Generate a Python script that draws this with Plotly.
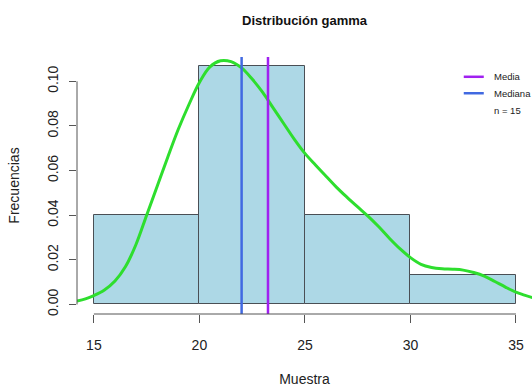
import plotly.graph_objects as go

# ---- data ----
n = 15
bin_left = [15, 20, 25, 30]
bin_width = 5
density = [0.04, 0.10667, 0.04, 0.01333]
media = 23.25
mediana = 22.0

curve_x = [14.2, 14.6, 15.0, 15.5, 16.0, 16.5, 17.0, 17.5, 18.0, 18.5, 19.0, 19.5,
           20.0, 20.5, 21.0, 21.5, 22.0, 22.5, 23.0, 23.5, 24.0, 24.5, 25.0, 25.5,
           26.0, 26.5, 27.0, 27.5, 28.0, 28.5, 29.0, 29.5, 30.0, 30.5, 31.0, 31.5,
           32.0, 32.5, 33.0, 33.5, 34.0, 34.5, 35.0, 35.4, 35.8]
curve_y = [0.0015, 0.0025, 0.004, 0.0065, 0.0105, 0.017, 0.027, 0.040, 0.053, 0.066,
           0.0785, 0.0895, 0.0995, 0.1065, 0.1092, 0.1088, 0.106, 0.101, 0.095, 0.088,
           0.081, 0.074, 0.0677, 0.0625, 0.0575, 0.0525, 0.048, 0.0437, 0.0395, 0.0348,
           0.0297, 0.025, 0.021, 0.018, 0.0166, 0.016, 0.0158, 0.0154, 0.0143, 0.0127,
           0.0103, 0.0078, 0.0055, 0.0042, 0.003]

x_ticks = [15, 20, 25, 30, 35]
y_ticks = [0.00, 0.02, 0.04, 0.06, 0.08, 0.10]
y_tick_text = ["0.00", "0.02", "0.04", "0.06", "0.08", "0.10"]

col_media = "#A020F0"
col_mediana = "#4169E1"
col_curve = "#2EDE2E"
axis_col = "#555555"
font_fam = "Liberation Sans, Arial, sans-serif"

fig = go.Figure()

fig.add_trace(go.Bar(
    x=[b + bin_width / 2 for b in bin_left], y=density, width=bin_width,
    marker=dict(color="#ADD8E6", line=dict(color="#4a4f55", width=1)),
    showlegend=False, hoverinfo="skip"))

fig.add_trace(go.Scatter(
    x=curve_x, y=curve_y, mode="lines",
    line=dict(color=col_curve, width=3, shape="spline", smoothing=1.0),
    showlegend=False, hoverinfo="skip"))

shapes = []
# mean / median vertical lines
shapes.append(dict(type="line", xref="x", yref="paper", x0=media, x1=media, y0=0, y1=1,
                   line=dict(color=col_media, width=2.5)))
shapes.append(dict(type="line", xref="x", yref="paper", x0=mediana, x1=mediana, y0=0, y1=1,
                   line=dict(color=col_mediana, width=2.5)))
# R-style axis lines
shapes.append(dict(type="line", xref="x", yref="paper", x0=x_ticks[0], x1=x_ticks[-1],
                   y0=0, y1=0, line=dict(color=axis_col, width=1)))
shapes.append(dict(type="line", xref="paper", yref="y", x0=0, x1=0,
                   y0=y_ticks[0], y1=y_ticks[-1], line=dict(color=axis_col, width=1)))

# legend (drawn manually, R style without box)
leg_items = [("Media", col_media, 0.923), ("Mediana", col_mediana, 0.859)]
annotations = []
for label, col, yy in leg_items:
    shapes.append(dict(type="line", xref="paper", yref="paper", x0=0.850, x1=0.894,
                       y0=yy, y1=yy, line=dict(color=col, width=2.5)))
    annotations.append(dict(text=label, xref="paper", yref="paper", x=0.911, y=yy,
                            xanchor="left", yanchor="middle", showarrow=False,
                            font=dict(size=9.5, color="#222", family=font_fam)))
annotations.append(dict(text=f"n = {n}", xref="paper", yref="paper", x=0.911, y=0.791,
                        xanchor="left", yanchor="middle", showarrow=False,
                        font=dict(size=9.5, color="#222", family=font_fam)))

fig.update_layout(
    width=532, height=388,
    margin=dict(l=77, r=0, t=57, b=74),
    paper_bgcolor="white", plot_bgcolor="white",
    font=dict(family=font_fam, color="#222", size=14),
    title=dict(text="<b>Distribución gamma</b>", x=0.5, xref="paper", xanchor="center",
               y=1 - 20 / 388, yref="container", yanchor="middle",
               font=dict(size=13, color="#111")),
    shapes=shapes, annotations=annotations,
    bargap=0, showlegend=False,
)

fig.update_xaxes(range=[14.2, 35.76], tickvals=x_ticks, ticktext=[str(t) for t in x_ticks],
                 ticks="outside", ticklen=8, tickcolor=axis_col, tickwidth=1,
                 ticklabelstandoff=10,
                 showgrid=False, zeroline=False, showline=False,
                 tickfont=dict(size=14),
                 title=dict(text="Muestra", font=dict(size=14), standoff=22))
fig.update_yaxes(range=[-0.00427, 0.1109], tickvals=y_ticks, ticktext=y_tick_text,
                 ticks="outside", ticklen=7, tickcolor=axis_col, tickwidth=1,
                 ticklabelstandoff=5,
                 tickangle=-90, showgrid=False, zeroline=False, showline=False,
                 tickfont=dict(size=14),
                 title=dict(text="Frecuencias", font=dict(size=14), standoff=22))

fig.write_html("out.html")
